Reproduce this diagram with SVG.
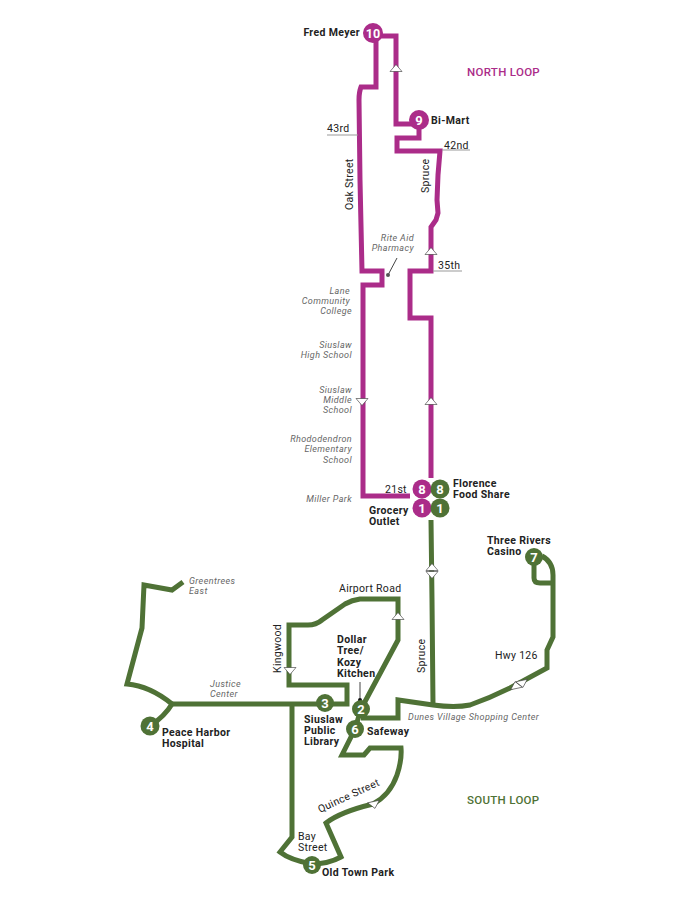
<svg xmlns="http://www.w3.org/2000/svg" width="700" height="900" viewBox="0 0 700 900">
<defs>
<path id="arr" d="M0,-4.5 L6,2.5 L-6,2.5 Z" fill="#fff" stroke="#333" stroke-width="0.6"/>
</defs>
<style>
text{font-family:Roboto,"Liberation Sans",sans-serif;fill:#222;font-size:10.5px;letter-spacing:.3px}
.b{font-weight:700;font-size:10.5px;letter-spacing:.35px}
.i{font-style:italic;fill:#666;font-size:9px;letter-spacing:.4px}
.e{text-anchor:end}
.n{font-weight:700;fill:#fff;font-size:13px;text-anchor:middle;letter-spacing:0}
.m{fill:none;stroke:#ab2c89;stroke-width:5}
.g{fill:none;stroke:#4f7236;stroke-width:5}
.l{fill:none;stroke:#999;stroke-width:1}
.k{fill:none;stroke:#444;stroke-width:1}
.cm{fill:#ab2c89}.cg{fill:#4f7236}
</style>
<g id="connectors">
<path class="m" d="M373,36 H396 V124 H419 V138 H397 V151 H440 L438,175 L437,200 L438,213 L436,220 L431,227 V271 H410 V318 H431 V478"/>
<path class="m" d="M376,35 V87 H361 Q359,92 359,100 L360,180 L362,271 H382 V285 H363 V496 H410"/>
<path class="g" d="M431,520 L432,600 L433,705"/>
<path class="g" d="M361,718 H398 V700 L433,705 Q455,708 470,705 Q490,698 510,688 L547,668 V650 L553,637 V603 V575 Q553,562 542,556"/>
<path class="g" d="M534,557 V578 Q534,583 540,583 H553"/>
<path class="g" d="M355,729 L361,709 L398,640 V599 H360 Q352,600 345,604 L322,620 Q316,625 308,625 H289 V685 H347 V704 H172"/>
<path class="g" d="M292,704 V837 L280,852 Q290,860 312,864 Q328,864 341,857 L326,823 Q340,812 373,804 Q390,795 397,775 Q402,760 401,748 H370 L364,755 H342 L355,729"/>
<path class="g" d="M150,726 Q165,716 172,704 Q150,686 127,684 L142,628 L144,585 L172,590 L183,582"/>
<path class="l" d="M327,135 H358 M442,150 H470 M433,271 H462"/>
<path class="k" d="M397,258 L388,275 M360,682 V700"/>
<circle cx="388" cy="275" r="2" fill="#555"/>
<circle cx="360" cy="700" r="2" fill="#111"/>
<use href="#arr" transform="translate(396,69)"/>
<use href="#arr" transform="translate(431,252)"/>
<use href="#arr" transform="translate(431,402)"/>
<use href="#arr" transform="translate(362,401) rotate(180)"/>
<use href="#arr" transform="translate(432,568)"/>
<use href="#arr" transform="translate(432,574) rotate(180)"/>
<use href="#arr" transform="translate(398,617)"/>
<use href="#arr" transform="translate(290,670) rotate(180)"/>
<use href="#arr" transform="translate(516,686) rotate(-12)"/>
<use href="#arr" transform="translate(522,683) rotate(168)"/>
<use href="#arr" transform="translate(374,804) rotate(168)"/>
</g>
<g id="n10"><circle class="cm" cx="373" cy="33" r="10"/><text class="n" x="373" y="38" style="font-size:12.5px">10</text><text class="b e" x="360" y="36">Fred Meyer</text></g>
<g id="n9"><circle class="cm" cx="419" cy="120" r="10"/><text class="n" x="419" y="125">9</text><text class="b" x="431" y="124">Bi-Mart</text></g>
<g id="m8"><circle class="cm" cx="422" cy="489" r="9.5"/><text class="n" x="422" y="494">8</text></g>
<g id="m1"><circle class="cm" cx="422" cy="508" r="9.5"/><text class="n" x="422" y="513">1</text></g>
<g id="g8"><circle class="cg" cx="440" cy="489" r="9.5"/><text class="n" x="440" y="494">8</text></g>
<g id="g1"><circle class="cg" cx="440" cy="508" r="9.5"/><text class="n" x="440" y="513">1</text></g>
<g id="n7"><circle class="cg" cx="534" cy="557" r="9"/><text class="n" x="534" y="562">7</text></g>
<g id="n3"><circle class="cg" cx="325" cy="703" r="9"/><text class="n" x="325" y="708">3</text></g>
<g id="n2"><circle class="cg" cx="361" cy="709" r="9"/><text class="n" x="361" y="714">2</text></g>
<g id="n6"><circle class="cg" cx="355" cy="729" r="9"/><text class="n" x="355" y="734">6</text></g>
<g id="n4"><circle class="cg" cx="150" cy="726" r="9.5"/><text class="n" x="150" y="731">4</text></g>
<g id="n5"><circle class="cg" cx="312" cy="865" r="9"/><text class="n" x="312" y="870">5</text></g>
<g id="labels">
<text x="467" y="76" style="font-size:11.5px;font-weight:500;fill:#ab2c89">NORTH LOOP</text>
<text x="467" y="804" style="font-size:11.5px;font-weight:500;fill:#4f7236">SOUTH LOOP</text>
<text x="327" y="132">43rd</text>
<text x="444" y="149">42nd</text>
<text x="438" y="269">35th</text>
<text x="385" y="493">21st</text>
<text transform="translate(353,210) rotate(-90)">Oak Street</text>
<text transform="translate(429,193) rotate(-90)">Spruce</text>
<text transform="translate(425,673) rotate(-90)">Spruce</text>
<text transform="translate(281,673) rotate(-90)">Kingwood</text>
<text x="339" y="592">Airport Road</text>
<text x="495" y="659">Hwy 126</text>
<text x="298" y="840">Bay<tspan x="298" dy="11">Street</tspan></text>
<text transform="translate(320,813) rotate(-25)">Quince Street</text>
<text class="i e" x="414" y="241">Rite Aid<tspan x="414" dy="10">Pharmacy</tspan></text>
<text class="i e" x="350" y="294">Lane<tspan x="350" dy="10">Community</tspan><tspan x="352" dy="10">College</tspan></text>
<text class="i e" x="352" y="348">Siuslaw<tspan x="352" dy="10">High School</tspan></text>
<text class="i e" x="352" y="393">Siuslaw<tspan x="352" dy="10">Middle</tspan><tspan x="352" dy="10">School</tspan></text>
<text class="i e" x="352" y="442">Rhododendron<tspan x="352" dy="10">Elementary</tspan><tspan x="352" dy="11">School</tspan></text>
<text class="i e" x="352" y="502">Miller Park</text>
<text class="i" x="189" y="584">Greentrees<tspan x="189" dy="10">East</tspan></text>
<text class="i" x="210" y="687">Justice<tspan x="210" dy="10">Center</tspan></text>
<text class="i" x="408" y="720">Dunes Village Shopping Center</text>
<text class="b" x="453" y="487">Florence<tspan x="453" dy="11">Food Share</tspan></text>
<text class="b" x="369" y="514">Grocery<tspan x="369" dy="11">Outlet</tspan></text>
<text class="b" x="487" y="544">Three Rivers<tspan x="487" dy="11">Casino</tspan></text>
<text class="b" x="337" y="643">Dollar<tspan x="337" dy="11">Tree/</tspan><tspan x="337" dy="12">Kozy</tspan><tspan x="337" dy="11">Kitchen</tspan></text>
<text class="b" x="304" y="723">Siuslaw<tspan x="304" dy="11">Public</tspan><tspan x="304" dy="11">Library</tspan></text>
<text class="b" x="367" y="735">Safeway</text>
<text class="b" x="162" y="736">Peace Harbor<tspan x="162" dy="11">Hospital</tspan></text>
<text class="b" x="322" y="876">Old Town Park</text>
</g>
</svg>
